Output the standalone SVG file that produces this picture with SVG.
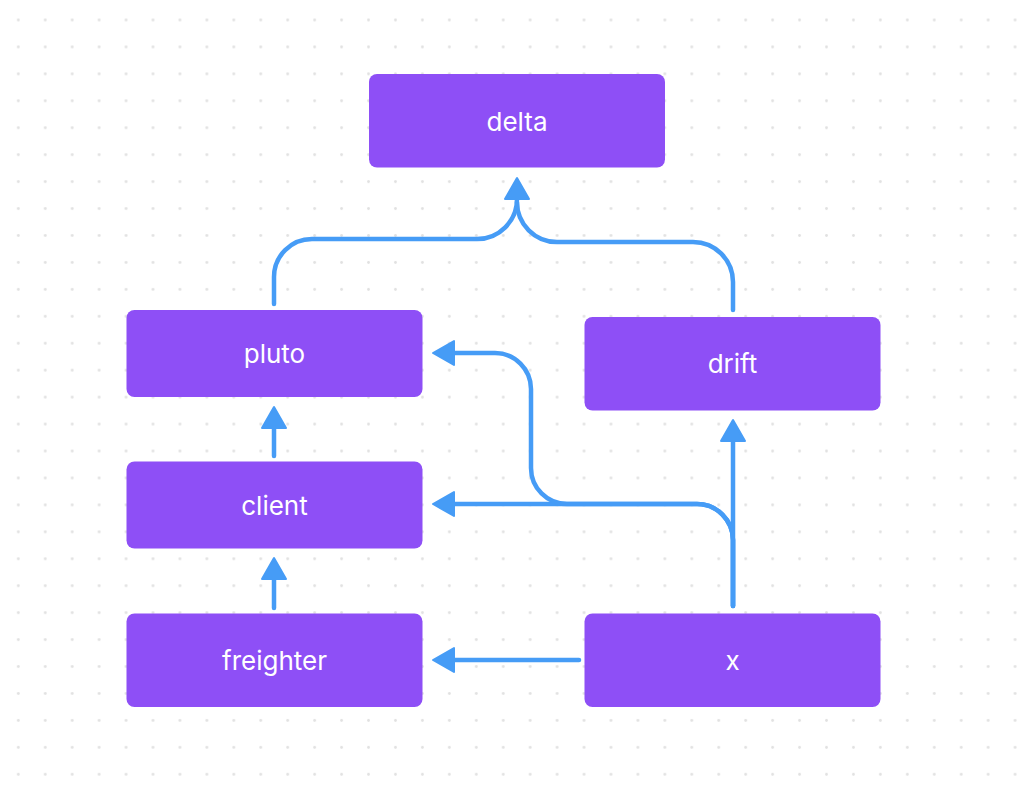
<svg xmlns="http://www.w3.org/2000/svg" width="1025" height="792" viewBox="0 0 1025 792">
<defs>
<pattern id="dots" patternUnits="userSpaceOnUse" x="4.83" y="6.53" width="26.94" height="26.94">
<circle cx="13.47" cy="13.47" r="1.4" fill="#e1e1e1"/>
</pattern>
<style>
.box{fill:#8e4ff6;}
.lbl{font-family:Inter,"Noto Sans","Liberation Sans",sans-serif;font-size:26px;fill:#ffffff;text-anchor:middle;}
.edge{fill:none;stroke:#469cf6;stroke-width:4.5;stroke-linecap:round;stroke-linejoin:round;}
.head{fill:#469cf6;stroke:#469cf6;stroke-width:2;stroke-linejoin:round;}
</style>
</defs>
<rect width="1025" height="792" fill="#ffffff"/>
<rect width="1025" height="792" fill="url(#dots)"/>
<g id="connectors">
<path class="edge" d="M274,304 V277 A38,38 0 0 1 312,239 H477 A40,40 0 0 0 517,199"/>
<path class="edge" d="M733,310 V282 A40,40 0 0 0 693,242 H557 A40,40 0 0 1 517,202"/>
<polygon class="head" points="517,178 505,199 529,199"/>
<path class="edge" d="M733,606 V442"/>
<polygon class="head" points="733,420 721,441 745,441"/>
<path class="edge" d="M733,606 V540 A36,36 0 0 0 697,504 H454"/>
<polygon class="head" points="433,504 454,492 454,516"/>
<path class="edge" d="M733,606 V540 A36,36 0 0 0 697,504 H567 A36,36 0 0 1 531,468 V389 A36,36 0 0 0 495,353 H454"/>
<polygon class="head" points="433,353 454,341 454,365"/>
<path class="edge" d="M274,456 V429"/>
<polygon class="head" points="274,407 262,428 286,428"/>
<path class="edge" d="M274,608 V580"/>
<polygon class="head" points="274,558 262,579 286,579"/>
<path class="edge" d="M579,660 H454"/>
<polygon class="head" points="433,660 454,648 454,672"/>
</g>
<g id="delta">
<rect class="box" x="369" y="74" width="296" height="93.5" rx="8"/>
<text class="lbl" x="517" y="131">delta</text>
</g>
<g id="pluto">
<rect class="box" x="126.5" y="310" width="296" height="87" rx="8"/>
<text class="lbl" x="274.5" y="363">pluto</text>
</g>
<g id="drift">
<rect class="box" x="584.5" y="317" width="296" height="93.5" rx="8"/>
<text class="lbl" x="732.5" y="373">drift</text>
</g>
<g id="client">
<rect class="box" x="126.5" y="461.5" width="296" height="87" rx="8"/>
<text class="lbl" x="274.5" y="515">client</text>
</g>
<g id="freighter">
<rect class="box" x="126.5" y="613.5" width="296" height="93.5" rx="8"/>
<text class="lbl" x="274.5" y="670">freighter</text>
</g>
<g id="x">
<rect class="box" x="584.5" y="613.5" width="296" height="93.5" rx="8"/>
<text class="lbl" x="732.5" y="670">x</text>
</g>
</svg>
